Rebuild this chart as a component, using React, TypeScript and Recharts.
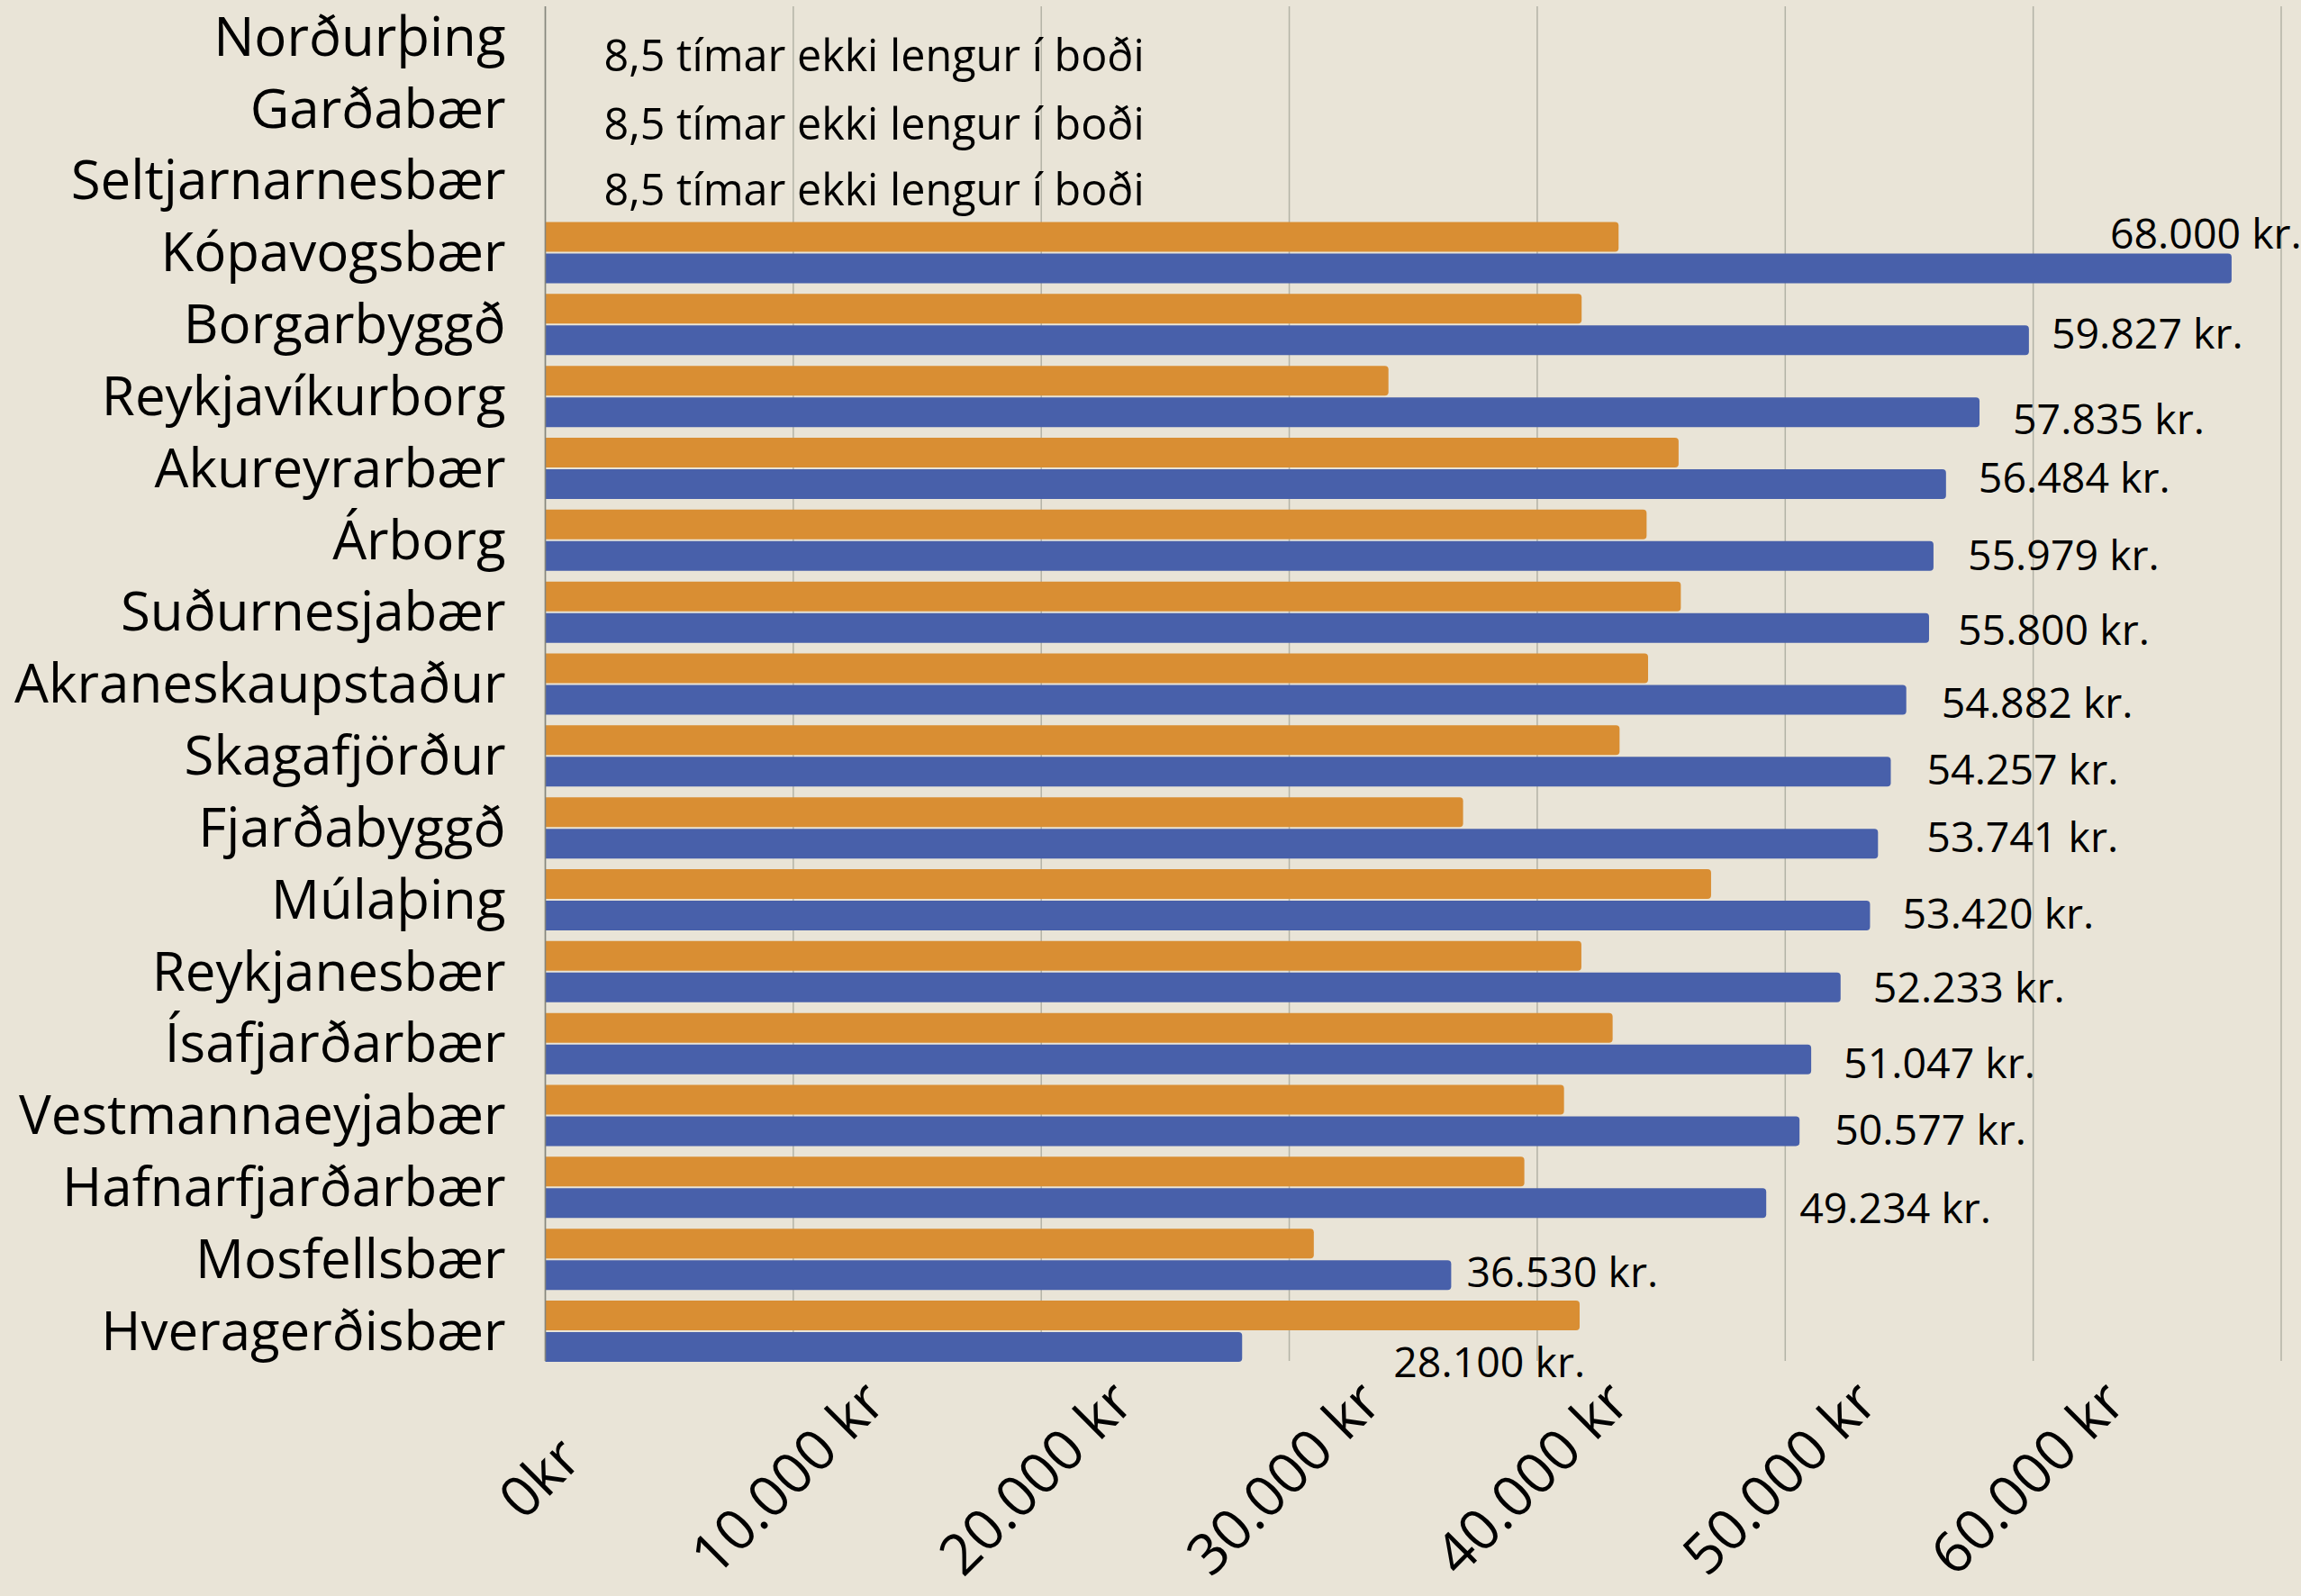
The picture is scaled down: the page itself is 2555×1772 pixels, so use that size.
import React from 'react';
import { BarChart, Bar, XAxis, YAxis, CartesianGrid, LabelList } from 'recharts';

const categories = [
  'Norðurþing', 'Garðabær', 'Seltjarnarnesbær', 'Kópavogsbær', 'Borgarbyggð',
  'Reykjavíkurborg', 'Akureyrarbær', 'Árborg', 'Suðurnesjabær', 'Akraneskaupstaður',
  'Skagafjörður', 'Fjarðabyggð', 'Múlaþing', 'Reykjanesbær', 'Ísafjarðarbær',
  'Vestmannaeyjabær', 'Hafnarfjarðarbær', 'Mosfellsbær', 'Hveragerðisbær',
];
const orangeValues = [
  0, 0, 0, 43280, 41790, 34000, 45700, 44410, 45790, 44470,
  43320, 37010, 47010, 41780, 43040, 41080, 39480, 30990, 41710,
];
const blueValues = [
  0, 0, 0, 68000, 59827, 57835, 56484, 55979, 55800, 54882,
  54257, 53741, 53420, 52233, 51047, 50577, 49234, 36530, 28100,
];
const unavailableText = '8,5 tímar ekki lengur í boði';
const xTicks = [0, 10000, 20000, 30000, 40000, 50000, 60000, 70000];
const xTickLabels = ['0kr', '10.000 kr', '20.000 kr', '30.000 kr', '40.000 kr', '50.000 kr', '60.000 kr', ''];

// label nudges (dx from bar end, dy from bar centre), as placed in the original
const labelNudge: [number, number][] = [
  [65, 4], [65, 0], [65, -6], [-135, -39], [25, -7], [37, 8], [36, -7], [38, -1],
  [32, 2], [39, 4], [40, -2], [54, -7], [36, -2], [36, 0], [36, 4], [39, -1],
  [37, 6], [17, -3], [168, 17],
];

const data = categories.map((name, i) => ({
  name,
  orange: orangeValues[i],
  blue: blueValues[i],
}));

const FONT = '"Open Sans", "Noto Sans", sans-serif';
const BG = '#E9E4D7';
const ORANGE = '#D98E33';
const BLUE = '#4860AA';
const AXIS_GAP = 44;
const BLUE_CENTER_OFFSET = 17;

const fmt = (v: number) => {
  const s = String(Math.round(v));
  return s.replace(/\B(?=(\d{3})+(?!\d))/g, '.') + ' kr.';
};

const BlueLabel = (props: any) => {
  const { x, y, width, height, value } = props;
  if (!value) return null;
  const i = blueValues.indexOf(Number(value));
  const endX = Number(x) + Number(width);
  const cy = Number(y) + Number(height) / 2;
  const [dx, dy] = labelNudge[i] || [36, 0];
  return (
    <text
      x={endX + dx}
      y={cy + dy}
      dy="0.355em"
      textAnchor="start"
      fontFamily={FONT}
      fontSize={46.5}
      fill="#000"
    >
      {fmt(Number(value))}
    </text>
  );
};

const YTick = (props: any) => {
  const { x, y, payload } = props;
  const i = categories.indexOf(payload.value);
  const showNote = i >= 0 && !blueValues[i];
  const [dx, dy] = labelNudge[i] || [65, 0];
  return (
    <g>
      <text
        x={x}
        y={y}
        dy="0.355em"
        textAnchor="end"
        fontFamily={FONT}
        fontSize={60}
        fill="#000"
      >
        {payload.value}
      </text>
      {showNote && (
        <text
          x={Number(x) + AXIS_GAP + dx}
          y={Number(y) + BLUE_CENTER_OFFSET + dy}
          dy="0.355em"
          textAnchor="start"
          fontFamily={FONT}
          fontSize={48.5}
          fill="#000"
        >
          {unavailableText}
        </text>
      )}
    </g>
  );
};

const XTick = (props: any) => {
  const { x, y, payload } = props;
  const idx = xTicks.indexOf(payload.value);
  const label = idx >= 0 ? xTickLabels[idx] : '';
  if (!label) return null;
  const cx = Number(x) - 8;
  const cy = Number(y) + 128;
  return (
    <text
      x={cx}
      y={cy}
      transform={`rotate(-45 ${cx} ${cy})`}
      textAnchor="middle"
      dominantBaseline="central"
      fontFamily={FONT}
      fontSize={63}
      fill="#000"
    >
      {label}
    </text>
  );
};

export default function App() {
  return (
    <div style={{ position: 'absolute', left: 0, top: 0, width: 2555, height: 1772, background: BG, overflow: 'hidden' }}>
      <BarChart
        width={2555}
        height={1772}
        data={data}
        layout="vertical"
        margin={{ top: 7, right: 22, left: 0, bottom: 0 }}
        barCategoryGap={6.4}
        barGap={2}
      >
        <CartesianGrid horizontal={false} vertical={true} stroke="#B3B3A6" strokeWidth={1.5} />
        <XAxis
          type="number"
          domain={[0, 70000]}
          ticks={xTicks}
          interval={0}
          axisLine={false}
          tickLine={false}
          tickSize={0}
          tickMargin={0}
          height={261}
          tick={<XTick />}
        />
        <YAxis
          type="category"
          dataKey="name"
          width={605.5}
          interval={0}
          tickLine={false}
          tickSize={0}
          tickMargin={AXIS_GAP}
          padding={{ top: -6.4, bottom: -6.4 }}
          axisLine={{ stroke: '#85857C', strokeWidth: 1.5 }}
          tick={<YTick />}
        />
        <Bar dataKey="orange" fill={ORANGE} radius={[0, 4, 4, 0]} isAnimationActive={false} />
        <Bar dataKey="blue" fill={BLUE} radius={[0, 4, 4, 0]} isAnimationActive={false}>
          <LabelList dataKey="blue" content={<BlueLabel />} />
        </Bar>
      </BarChart>
    </div>
  );
}
